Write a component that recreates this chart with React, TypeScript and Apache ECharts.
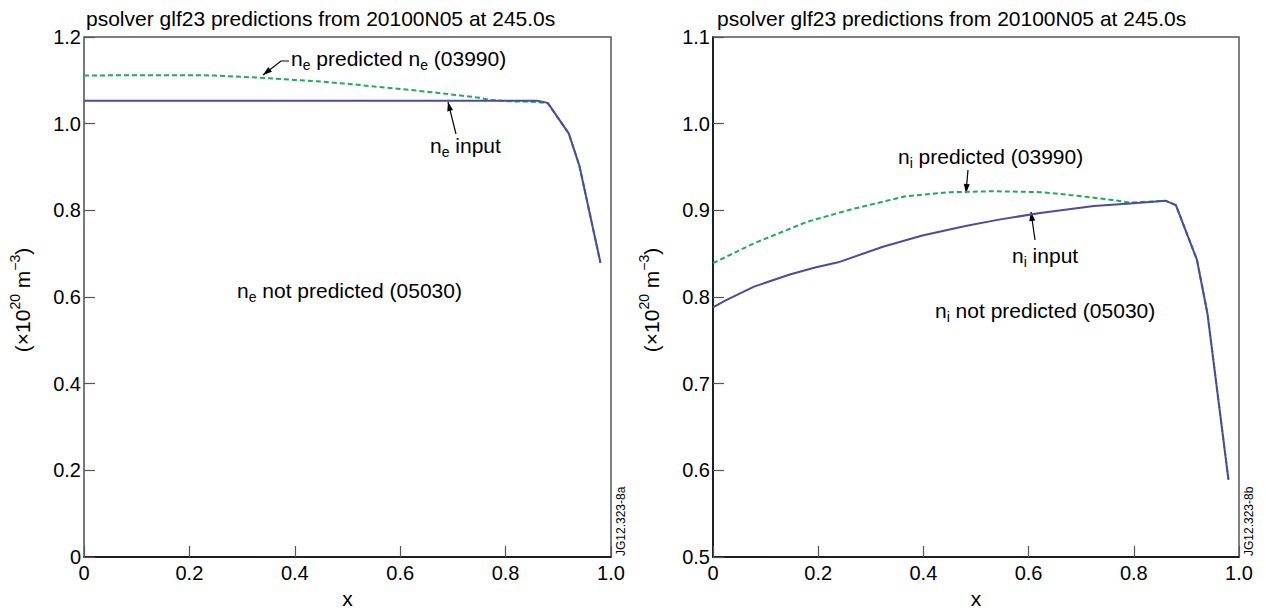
import React, { useEffect, useRef } from "react";
import * as echarts from "echarts";

// ---- Left panel: electron density ----
const neInputX = [0, 0.2, 0.4, 0.6, 0.8, 0.86, 0.88, 0.92, 0.94, 0.98];
const neInputY = [1.053, 1.053, 1.053, 1.053, 1.053, 1.053, 1.048, 0.977, 0.903, 0.679];
const nePredX = [0, 0.1, 0.2, 0.25, 0.3, 0.35, 0.4, 0.45, 0.5, 0.55, 0.6, 0.65, 0.7, 0.75, 0.77, 0.8, 0.86, 0.88, 0.92, 0.94, 0.98];
const nePredY = [1.111, 1.112, 1.112, 1.111, 1.108, 1.105, 1.101, 1.097, 1.092, 1.086, 1.08, 1.074, 1.067, 1.06, 1.055, 1.052, 1.05, 1.047, 0.977, 0.903, 0.679];

// ---- Right panel: ion density ----
const niInputX = [0, 0.024, 0.078, 0.146, 0.194, 0.238, 0.323, 0.398, 0.48, 0.541, 0.622, 0.724, 0.793, 0.861, 0.88, 0.92, 0.94, 0.98];
const niInputY = [0.788, 0.796, 0.812, 0.826, 0.834, 0.84, 0.858, 0.871, 0.882, 0.889, 0.897, 0.905, 0.908, 0.911, 0.906, 0.843, 0.781, 0.589];
const niPredX = [0, 0.078, 0.18, 0.262, 0.364, 0.452, 0.534, 0.622, 0.69, 0.759, 0.793, 0.861, 0.88, 0.92, 0.94, 0.98];
const niPredY = [0.839, 0.862, 0.887, 0.901, 0.916, 0.921, 0.922, 0.921, 0.917, 0.912, 0.909, 0.911, 0.906, 0.843, 0.781, 0.589];

const xTicks = { min: 0, max: 1, interval: 0.2 };
const leftY = { min: 0, max: 1.2, interval: 0.2 };
const rightY = { min: 0.5, max: 1.1, interval: 0.1 };

const titleText = "psolver glf23 predictions from 20100N05 at 245.0s";
const FONT = "Liberation Sans, Arial, Helvetica, sans-serif";
const BLUE = "#4b4b9f";
const GREEN = "#22a95b";

function zip(xs: number[], ys: number[]) {
  return xs.map((x, i) => [x, ys[i]]);
}

function arrowHead(tx: number, ty: number, fx: number, fy: number) {
  const dx = tx - fx, dy = ty - fy;
  const L = Math.sqrt(dx * dx + dy * dy);
  const ux = dx / L, uy = dy / L;
  const len = 9, half = 3;
  const bx = tx - ux * len, by = ty - uy * len;
  return {
    type: "polygon",
    shape: { points: [[tx, ty], [bx - uy * half, by + ux * half], [bx + uy * half, by - ux * half]] },
    style: { fill: "#000" },
  };
}

function arrow(points: number[][]) {
  const n = points.length;
  return [
    { type: "polyline", shape: { points }, style: { stroke: "#000", lineWidth: 1.2, fill: "none" } },
    arrowHead(points[n - 1][0], points[n - 1][1], points[n - 2][0], points[n - 2][1]),
  ];
}

const rich = {
  a: { fontSize: 21, lineHeight: 28, fontFamily: FONT, fill: "#000" },
  sub: { fontSize: 14, lineHeight: 18, verticalAlign: "bottom", fontFamily: FONT, fill: "#000" },
  sup: { fontSize: 14, lineHeight: 16, verticalAlign: "top", fontFamily: FONT, fill: "#000" },
};

function label(x: number, y: number, text: string) {
  return {
    type: "text",
    x,
    y,
    style: { text, rich, align: "left", verticalAlign: "middle", fill: "#000" },
  };
}

function axisCommon(color: string) {
  return {
    axisLine: { show: true, lineStyle: { color, width: 1.5 } },
    axisTick: { show: true, inside: true, length: 11, lineStyle: { color: "#555", width: 1.2 } },
    splitLine: { show: false },
    axisLabel: { color: "#000", fontSize: 20, fontFamily: FONT },
  };
}

const fmt1 = (v: number) => (Math.abs(v) < 1e-9 ? "0" : v.toFixed(1));

export default function App() {
  const ref = useRef<HTMLDivElement>(null);
  useEffect(() => {
    if (!ref.current) return;
    const chart = echarts.init(ref.current, null, { renderer: "svg" });
    const TOP = 37;
    const H = 520;
    const grids = [
      { left: 84, top: TOP, width: 527, height: H },
      { left: 713, top: TOP, width: 526, height: H },
    ];
    const xAxis = [0, 1].map((g) => ({
      type: "value",
      gridIndex: g,
      ...xTicks,
      ...axisCommon("#000"),
      axisLabel: { ...axisCommon("#000").axisLabel, margin: 6, formatter: fmt1, showMinLabel: true, showMaxLabel: true },
      name: "x",
      nameLocation: "middle",
      nameGap: 30,
      nameTextStyle: { color: "#000", fontSize: 21, fontFamily: FONT },
    }));
    const yAxis = [
      { type: "value", gridIndex: 0, ...leftY, ...axisCommon("#777"), axisLabel: { ...axisCommon("#000").axisLabel, margin: 3, formatter: fmt1 } },
      { type: "value", gridIndex: 1, ...rightY, ...axisCommon("#000"), axisLabel: { ...axisCommon("#000").axisLabel, margin: 3, formatter: fmt1 } },
    ];
    const line = (data: number[][], color: string, dashed: boolean, g: number) => ({
      type: "line",
      xAxisIndex: g,
      yAxisIndex: g,
      data,
      showSymbol: false,
      symbol: "none",
      lineStyle: { color, width: 2, type: dashed ? [5, 3] : "solid" },
      z: dashed ? 2 : 3,
    });
    const yName = "{a|(×10}{sup|20}{a| m}{sup|−3}{a|)}";
    const bottom = TOP + H;
    const graphic: any[] = [
      { type: "text", x: 86, y: 18, style: { text: titleText, fontSize: 21, fontFamily: FONT, fill: "#000", align: "left", verticalAlign: "middle" } },
      { type: "text", x: 717, y: 18, style: { text: titleText, fontSize: 21, fontFamily: FONT, fill: "#000", align: "left", verticalAlign: "middle" } },
      { type: "text", x: 22, y: 300, rotation: Math.PI / 2, style: { text: yName, rich, align: "center", verticalAlign: "middle" } },
      { type: "text", x: 651, y: 300, rotation: Math.PI / 2, style: { text: yName, rich, align: "center", verticalAlign: "middle" } },
      { type: "text", x: 621, y: bottom - 1, rotation: Math.PI / 2, style: { text: "JG12.323-8a", fontSize: 12, fontFamily: FONT, fill: "#000", align: "left", verticalAlign: "middle" } },
      { type: "text", x: 1249, y: bottom - 1, rotation: Math.PI / 2, style: { text: "JG12.323-8b", fontSize: 12, fontFamily: FONT, fill: "#000", align: "left", verticalAlign: "middle" } },
      label(291, 58, "{a|n}{sub|e}{a| predicted n}{sub|e}{a| (03990)}"),
      label(430, 145, "{a|n}{sub|e}{a| input}"),
      label(237, 290, "{a|n}{sub|e}{a| not predicted (05030)}"),
      label(898, 156, "{a|n}{sub|i}{a| predicted (03990)}"),
      label(1012, 255, "{a|n}{sub|i}{a| input}"),
      label(935, 310, "{a|n}{sub|i}{a| not predicted (05030)}"),
      ...arrow([[289, 61], [281, 61], [263, 75]]),
      ...arrow([[456, 134], [448, 102]]),
      ...arrow([[968, 170], [966, 193]]),
      ...arrow([[1035, 240], [1031, 212]]),
    ];
    chart.setOption({
      animation: false,
      backgroundColor: "#fff",
      grid: grids.map((g) => ({
        ...g,
        show: true,
        borderColor: "#555",
        borderWidth: 1.5,
        backgroundColor: "transparent",
        containLabel: false,
        outerBoundsMode: "none",
      })),
      xAxis,
      yAxis,
      series: [
        line(zip(nePredX, nePredY), GREEN, true, 0),
        line(zip(neInputX, neInputY), BLUE, false, 0),
        line(zip(niPredX, niPredY), GREEN, true, 1),
        line(zip(niInputX, niInputY), BLUE, false, 1),
      ],
      graphic,
    });
    return () => chart.dispose();
  }, []);
  return <div ref={ref} style={{ position: "fixed", left: 0, top: 0, width: 1266, height: 610 }} />;
}
